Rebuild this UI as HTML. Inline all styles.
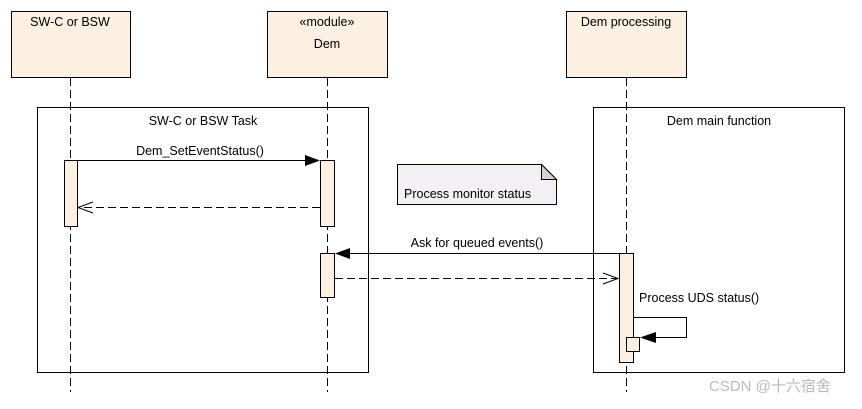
<!DOCTYPE html>
<html><head><meta charset="utf-8"><style>
body{margin:0;background:#fff}
svg text{font-family:"Liberation Sans","Noto Sans CJK SC",sans-serif;font-size:12.5px;fill:#000}
</style></head><body>
<svg width="862" height="404" xmlns="http://www.w3.org/2000/svg">
<g stroke="#000" stroke-width="1" fill="#fbf0e1">
<rect x="11.5" y="11.5" width="119" height="66"/>
<rect x="267.5" y="11.5" width="120" height="66"/>
<rect x="566.5" y="11.5" width="120" height="66"/>
</g>
<text x="70" y="26" text-anchor="middle">SW-C or BSW</text>
<text x="327" y="26" text-anchor="middle">«module»</text>
<text x="327" y="48" text-anchor="middle">Dem</text>
<text x="626" y="26" text-anchor="middle">Dem processing</text>
<g fill="none" stroke="#000">
<rect x="37.5" y="107.5" width="331" height="265"/>
<rect x="593.5" y="107.5" width="251" height="265"/>
<g stroke-dasharray="8,4">
<line x1="70.5" y1="78" x2="70.5" y2="392"/>
<line x1="327.5" y1="78" x2="327.5" y2="392"/>
<line x1="626.5" y1="78" x2="626.5" y2="392"/>
</g>
</g>
<text x="203" y="125" text-anchor="middle">SW-C or BSW Task</text>
<text x="719" y="125" text-anchor="middle">Dem main function</text>
<path d="M397.5 164.5H541.5L556.5 179.5V204.5H397.5Z" fill="#f3f0f5" stroke="#000"/>
<path d="M541.5 164.5V179.5H556.5Z" fill="#d5d0da" stroke="#000"/>
<text x="404" y="198">Process monitor status</text>
<g stroke="#000" fill="#fbf0e1">
<rect x="64.5" y="160.5" width="13" height="66"/>
<rect x="320.5" y="160.5" width="14" height="66"/>
<rect x="320.5" y="253.5" width="14" height="44"/>
<rect x="619.5" y="253.5" width="14" height="109"/>
<rect x="626.5" y="337.5" width="13" height="14"/>
</g>
<g stroke="#000" fill="none">
<line x1="77" y1="160.5" x2="306" y2="160.5"/>
<line x1="350" y1="253.5" x2="619" y2="253.5"/>
<line x1="320" y1="207.5" x2="78" y2="207.5" stroke-dasharray="8,4"/>
<path d="M93 202L78 207.5L93 213"/>
<line x1="335" y1="278.5" x2="618" y2="278.5" stroke-dasharray="8,4"/>
<path d="M603 273L618 278.5L603 284"/>
<path d="M634 317.5H686.5V337.5H655"/>
</g>
<path d="M305 155L320 160.5L305 166Z" fill="#000"/>
<path d="M350 248L335 253.5L350 259Z" fill="#000"/>
<path d="M656 332L640 337.5L656 343Z" fill="#000"/>
<text x="200" y="155" text-anchor="middle">Dem_SetEventStatus()</text>
<text x="477" y="247" text-anchor="middle">Ask for queued events()</text>
<text x="639" y="302">Process  UDS status()</text>
<text x="709" y="391" style="font-size:15px;fill:#bbb">CSDN @十六宿舍</text>
</svg>
</body></html>
